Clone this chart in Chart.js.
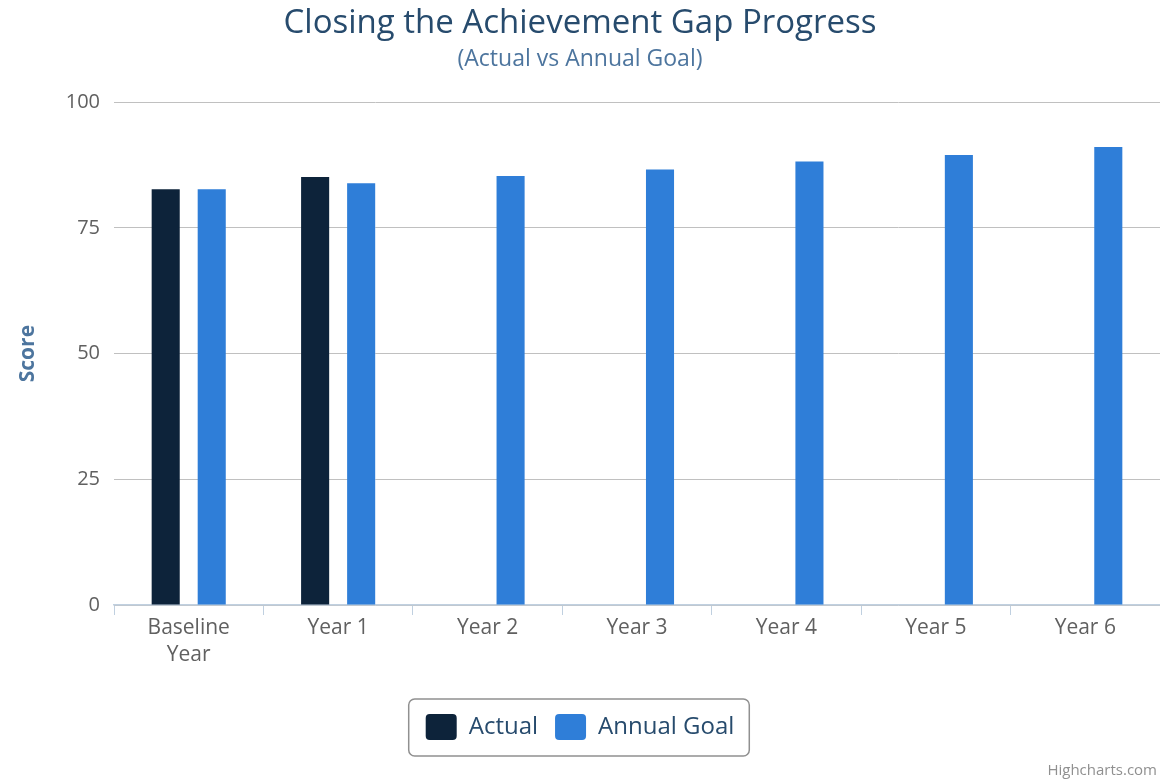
<!DOCTYPE html>
<html>
<head>
<meta charset="utf-8">
<script src="https://cdn.jsdelivr.net/npm/chart.js@4.4.1/dist/chart.umd.min.js"></script>
<style>
html, body { margin: 0; padding: 0; background: #fff; }
#wrap { width: 1160px; height: 780px; position: relative; }
</style>
</head>
<body>
<div id="wrap"><canvas id="chart"></canvas></div>
<script>
// chart data
const categories = [['Baseline', 'Year'], 'Year 1', 'Year 2', 'Year 3', 'Year 4', 'Year 5', 'Year 6'];
const actualScores = [82.7, 85.1, null, null, null, null, null];
const goalScores = [82.7, 83.9, 85.3, 86.6, 88.2, 89.5, 91.1];
const yTicks = [0, 25, 50, 75, 100];

const FONT = '"Open Sans", "DejaVu Sans", sans-serif';

// draws the rounded border around the legend items
const legendBorder = {
    id: 'legendBorder',
    afterDraw(chart) {
        const boxes = chart.legend.legendHitBoxes;
        if (!boxes || !boxes.length) return;
        const left = Math.min(...boxes.map(b => b.left)) - 17;
        const right = Math.max(...boxes.map(b => b.left + b.width)) + 15;
        const mid = boxes[0].top + boxes[0].height / 2;
        const top = mid - 28, bottom = mid + 29;
        const ctx = chart.ctx;
        ctx.save();
        ctx.strokeStyle = '#909090';
        ctx.lineWidth = 1.5;
        ctx.beginPath();
        ctx.roundRect(left, top, right - left, bottom - top, 6);
        ctx.stroke();
        ctx.restore();
    }
};

// credit text in the bottom right corner
const credits = {
    id: 'credits',
    afterDraw(chart) {
        const ctx = chart.ctx;
        ctx.save();
        ctx.font = '15px ' + FONT;
        ctx.fillStyle = '#909090';
        ctx.textAlign = 'right';
        ctx.textBaseline = 'alphabetic';
        ctx.fillText('Highcharts.com', 1157, 775);
        ctx.restore();
    }
};

const ctx = document.getElementById('chart').getContext('2d');
new Chart(ctx, {
    type: 'bar',
    data: {
        labels: categories,
        datasets: [{
            label: 'Actual',
            data: actualScores,
            backgroundColor: '#0d233a',
            borderWidth: 0,
            categoryPercentage: 0.616,
            barPercentage: 0.61
        }, {
            label: 'Annual Goal',
            data: goalScores,
            backgroundColor: '#2f7ed8',
            borderWidth: 0,
            categoryPercentage: 0.616,
            barPercentage: 0.61
        }]
    },
    options: {
        responsive: true,
        maintainAspectRatio: false,
        animation: false,
        layout: { padding: { top: 0, right: 0, bottom: 30, left: 0 } },
        plugins: {
            title: {
                display: true,
                text: 'Closing the Achievement Gap Progress',
                color: '#274b6d',
                font: { family: FONT, size: 33, weight: 'normal' },
                padding: { top: 4, bottom: 2 }
            },
            subtitle: {
                display: true,
                text: '(Actual vs Annual Goal)',
                color: '#4d759e',
                font: { family: FONT, size: 23, weight: 'normal' },
                padding: { top: 0, bottom: 29 }
            },
            legend: {
                position: 'bottom',
                labels: {
                    color: '#274b6d',
                    font: { family: FONT, size: 24 },
                    boxWidth: 31,
                    boxHeight: 26,
                    useBorderRadius: true,
                    borderRadius: 4,
                    padding: 17
                }
            },
            tooltip: { enabled: false }
        },
        scales: {
            x: {
                grid: {
                    offset: true,
                    drawOnChartArea: false,
                    drawTicks: true,
                    tickLength: 10,
                    color: '#C0D0E0'
                },
                border: { color: '#C0D0E0', width: 1.5 },
                ticks: {
                    color: '#606060',
                    font: { family: FONT, size: 21, lineHeight: 1.3 },
                    padding: -1,
                    maxRotation: 0,
                    autoSkip: false
                },
                afterFit(scale) { scale.height = 92; }
            },
            y: {
                min: 0,
                max: 100,
                afterBuildTicks(scale) { scale.ticks = yTicks.map(v => ({ value: v })); },
                grid: { color: '#C0C0C0', drawTicks: false },
                border: { display: false },
                ticks: {
                    color: '#606060',
                    font: { family: FONT, size: 20 },
                    padding: 14
                },
                title: {
                    display: true,
                    text: 'Score',
                    color: '#4d759e',
                    font: { family: FONT, size: 21, weight: 'bold' },
                    padding: { top: 15, bottom: 0 }
                },
                afterFit(scale) { scale.width = 114; }
            }
        }
    },
    plugins: [legendBorder, credits]
});
</script>
</body>
</html>
